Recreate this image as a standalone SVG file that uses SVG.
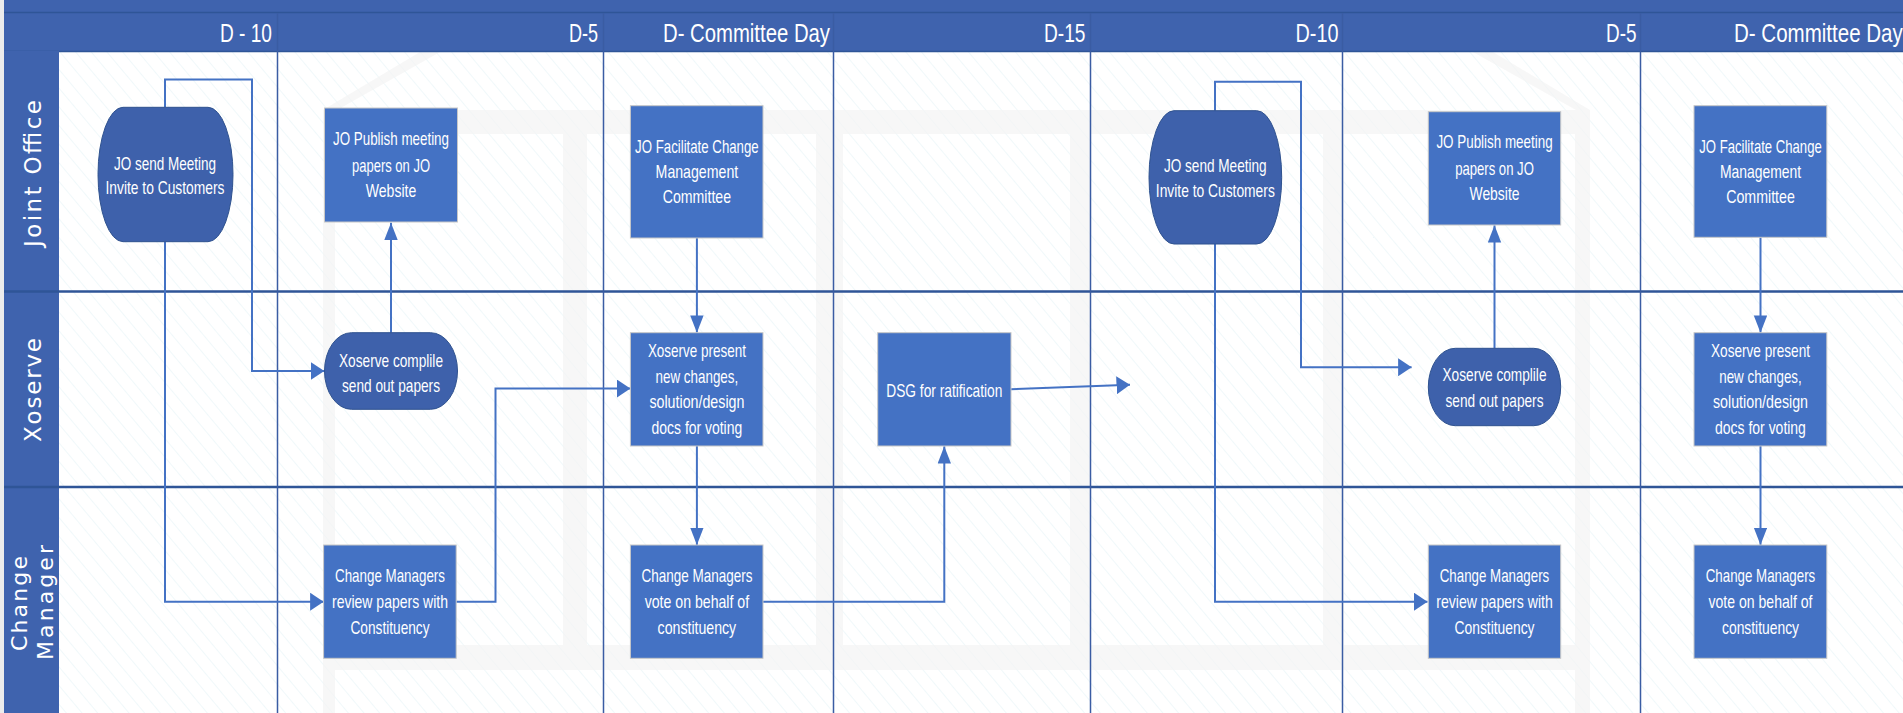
<svg xmlns="http://www.w3.org/2000/svg" width="1903" height="713" viewBox="0 0 1903 713">
<defs>
<pattern id="hatch" patternUnits="userSpaceOnUse" width="12" height="12" patternTransform="rotate(-40)">
<line x1="0" y1="0" x2="0" y2="12" stroke="#E2F1F5" stroke-width="1"/>
</pattern>
<marker id="ah" markerUnits="userSpaceOnUse" markerWidth="14" markerHeight="18" refX="13.5" refY="9" orient="auto">
<path d="M0,0 L13.5,9 L0,18 Z" fill="#4472C4"/>
</marker>
<marker id="av" markerUnits="userSpaceOnUse" markerWidth="18" markerHeight="14" refX="17.3" refY="6.7" orient="auto">
<path d="M0,0 L17.3,6.7 L0,13.4 Z" fill="#4472C4"/>
</marker>
<style>
.hdr{fill:#3F63AE}
.div{stroke:#2F5597;stroke-width:2.5;fill:none}
.col{stroke:#3A5CA3;stroke-width:1.5;fill:none}
.wm{fill:#F3F3F3;opacity:0.7}
.ht{font-family:"Liberation Sans",Arial,sans-serif;font-size:26px;fill:#FFFFFF;text-anchor:end}
.lt{font-family:"DejaVu Sans",Verdana,sans-serif;font-size:23px;fill:#FFFFFF;text-anchor:middle}
.box{fill:#4472C4;stroke:#C8C8C8;stroke-width:1}
.rnd{fill:#3E61AB;stroke:#2F528F;stroke-width:1}
.nt{font-family:"Liberation Sans",Arial,sans-serif;font-size:18.5px;fill:#FFFFFF;text-anchor:middle}
.cn{stroke:#4472C4;stroke-width:2;fill:none}
</style>
</defs>

<g id="background">
<rect x="0" y="0" width="1903" height="713" fill="#FFFFFF"/>
<rect x="0" y="0" width="4" height="713" fill="#ECECEC"/>
<rect x="59" y="51" width="1844" height="662" fill="url(#hatch)"/>
</g>

<g id="watermark">
<rect class="wm" x="323" y="110" width="1267" height="24"/>
<rect class="wm" x="323" y="134" width="12" height="579"/>
<rect class="wm" x="563" y="134" width="24" height="511"/>
<rect class="wm" x="816" y="134" width="27" height="511"/>
<rect class="wm" x="1070" y="134" width="21" height="511"/>
<rect class="wm" x="1323" y="134" width="21" height="511"/>
<rect class="wm" x="1575" y="134" width="15" height="579"/>
<rect class="wm" x="335" y="645" width="1240" height="25"/>
<polygon class="wm" points="323,110 337,110 440,52 420,52"/>
<polygon class="wm" points="1590,110 1576,110 1473,52 1493,52"/>
</g>

<g id="header">
<rect class="hdr" x="4" y="0" width="1899" height="51"/>
<line x1="4" y1="12.5" x2="1903" y2="12.5" stroke="#2F5597" stroke-width="1.5"/>
<line x1="4" y1="51.5" x2="1903" y2="51.5" stroke="#2F5597" stroke-width="1.5"/>
<text class="ht" x="272" y="41.5" textLength="52" lengthAdjust="spacingAndGlyphs">D - 10</text>
<text class="ht" x="598" y="41.5" textLength="29" lengthAdjust="spacingAndGlyphs">D-5</text>
<text class="ht" x="830" y="41.5" textLength="167" lengthAdjust="spacingAndGlyphs">D- Committee Day</text>
<text class="ht" x="1085.5" y="41.5" textLength="41.5" lengthAdjust="spacingAndGlyphs">D-15</text>
<text class="ht" x="1338.5" y="41.5" textLength="43" lengthAdjust="spacingAndGlyphs">D-10</text>
<text class="ht" x="1636.5" y="41.5" textLength="30.5" lengthAdjust="spacingAndGlyphs">D-5</text>
<text class="ht" style="text-anchor:start" x="0" y="0" transform="translate(1734,41.5) scale(0.79,1)">D- Committee Day</text>
</g>

<g id="lanes">
<rect class="hdr" x="4" y="51" width="55" height="662"/>
<line class="div" x1="4" y1="291.5" x2="1903" y2="291.5"/>
<line class="div" x1="4" y1="487" x2="1903" y2="487"/>
<g id="lane-joint-office"><text class="lt" transform="translate(41,173.5) rotate(-90)" textLength="147" lengthAdjust="spacing">Joint Office</text></g>
<g id="lane-xoserve"><text class="lt" transform="translate(41,390) rotate(-90)" textLength="104" lengthAdjust="spacing">Xoserve</text></g>
<g id="lane-change-manager">
<text class="lt" style="font-size:22px" transform="translate(26.5,603.5) rotate(-90)" textLength="95" lengthAdjust="spacing">Change</text>
<text class="lt" style="font-size:22px" transform="translate(53,602.5) rotate(-90)" textLength="115" lengthAdjust="spacing">Manager</text>
</g>
</g>

<g id="columns">
<line class="col" x1="277.5" y1="13" x2="277.5" y2="713"/>
<line class="col" x1="603.5" y1="13" x2="603.5" y2="713"/>
<line class="col" x1="833.5" y1="13" x2="833.5" y2="713"/>
<line class="col" x1="1090.5" y1="13" x2="1090.5" y2="713"/>
<line class="col" x1="1342.5" y1="13" x2="1342.5" y2="713"/>
<line class="col" x1="1640.5" y1="13" x2="1640.5" y2="713"/>
</g>

<g id="connectors">
<path class="cn" d="M165,107 V79.5 H252 V371 H324.3" marker-end="url(#ah)"/>
<path class="cn" d="M165,241.7 V601.7 H323.6" marker-end="url(#ah)"/>
<path class="cn" d="M391,332.7 V222.7" marker-end="url(#av)"/>
<path class="cn" d="M456.2,601.7 H495.5 V388.5 H630.4" marker-end="url(#ah)"/>
<path class="cn" d="M696.9,238 V332.7" marker-end="url(#av)"/>
<path class="cn" d="M696.9,446 V545" marker-end="url(#av)"/>
<path class="cn" d="M763,601.7 H944.3 V446.3" marker-end="url(#av)"/>
<path class="cn" d="M1011,389.3 L1130,384.8" marker-end="url(#ah)"/>
<path class="cn" d="M1215,110.7 V81.7 H1301 V367.3 H1411.6" marker-end="url(#ah)"/>
<path class="cn" d="M1215,244 V601.7 H1427.5" marker-end="url(#ah)"/>
<path class="cn" d="M1494.5,348.3 V225.3" marker-end="url(#av)"/>
<path class="cn" d="M1760.5,237.3 V332.7" marker-end="url(#av)"/>
<path class="cn" d="M1760.5,446 V545" marker-end="url(#av)"/>
</g>

<g id="n1">
<path class="rnd" d="M123,107.3 H208 A25,67.2 0 0 1 208,241.7 H123 A25,67.2 0 0 1 123,107.3 Z"/>
<text class="nt" x="165" y="170" textLength="102" lengthAdjust="spacingAndGlyphs">JO send Meeting</text>
<text class="nt" x="165" y="194" textLength="119" lengthAdjust="spacingAndGlyphs">Invite to Customers</text>
</g>

<g id="n2">
<rect class="box" x="324.5" y="108" width="133" height="114"/>
<text class="nt" x="391" y="145" textLength="116" lengthAdjust="spacingAndGlyphs">JO Publish meeting</text>
<text class="nt" x="391" y="171.5" textLength="78" lengthAdjust="spacingAndGlyphs">papers on JO</text>
<text class="nt" x="391" y="197" textLength="50.5" lengthAdjust="spacingAndGlyphs">Website</text>
</g>

<g id="n3">
<rect class="rnd" x="324.5" y="332.7" width="133" height="76.6" rx="27" ry="38.3"/>
<text class="nt" x="391" y="366.7" textLength="104" lengthAdjust="spacingAndGlyphs">Xoserve complile</text>
<text class="nt" x="391" y="391.7" textLength="98" lengthAdjust="spacingAndGlyphs">send out papers</text>
</g>

<g id="n4">
<rect class="box" x="323.6" y="545" width="132.6" height="113.3"/>
<text class="nt" x="390" y="581.7" textLength="110" lengthAdjust="spacingAndGlyphs">Change Managers</text>
<text class="nt" x="390" y="608.3" textLength="116" lengthAdjust="spacingAndGlyphs">review papers with</text>
<text class="nt" x="390" y="634" textLength="79" lengthAdjust="spacingAndGlyphs">Constituency</text>
</g>

<g id="n5">
<rect class="box" x="630.4" y="332.7" width="132.6" height="113.3"/>
<text class="nt" x="696.9" y="356.7" textLength="98" lengthAdjust="spacingAndGlyphs">Xoserve present</text>
<text class="nt" x="696.9" y="382.7" textLength="82.6" lengthAdjust="spacingAndGlyphs">new changes,</text>
<text class="nt" x="696.9" y="408.3" textLength="95" lengthAdjust="spacingAndGlyphs">solution/design</text>
<text class="nt" x="696.9" y="434" textLength="90.6" lengthAdjust="spacingAndGlyphs">docs for voting</text>
</g>

<g id="n6">
<rect class="box" x="630.4" y="105.7" width="132.6" height="132.3"/>
<text class="nt" x="696.9" y="152.7" textLength="123.6" lengthAdjust="spacingAndGlyphs">JO Facilitate Change</text>
<text class="nt" x="696.9" y="178.3" textLength="82.6" lengthAdjust="spacingAndGlyphs">Management</text>
<text class="nt" x="696.9" y="203.3" textLength="68.3" lengthAdjust="spacingAndGlyphs">Committee</text>
</g>

<g id="n7">
<rect class="box" x="630.4" y="545" width="132.6" height="113.3"/>
<text class="nt" x="696.9" y="581.7" textLength="111" lengthAdjust="spacingAndGlyphs">Change Managers</text>
<text class="nt" x="696.9" y="608.3" textLength="104.5" lengthAdjust="spacingAndGlyphs">vote on behalf of</text>
<text class="nt" x="696.9" y="634" textLength="78.6" lengthAdjust="spacingAndGlyphs">constituency</text>
</g>

<g id="n8">
<rect class="box" x="877.7" y="332.7" width="133.3" height="113.3"/>
<text class="nt" x="944.3" y="396.7" textLength="116" lengthAdjust="spacingAndGlyphs">DSG for ratification</text>
</g>

<g id="n9">
<path class="rnd" d="M1174,110.7 H1256.7 A25,66.65 0 0 1 1256.7,244 H1174 A25,66.65 0 0 1 1174,110.7 Z"/>
<text class="nt" x="1215.3" y="171.7" textLength="102.7" lengthAdjust="spacingAndGlyphs">JO send Meeting</text>
<text class="nt" x="1215.3" y="196.7" textLength="119" lengthAdjust="spacingAndGlyphs">Invite to Customers</text>
</g>

<g id="n10">
<rect class="box" x="1428.3" y="111.7" width="132.4" height="113.3"/>
<text class="nt" x="1494.5" y="148.3" textLength="116.2" lengthAdjust="spacingAndGlyphs">JO Publish meeting</text>
<text class="nt" x="1494.5" y="175" textLength="78.7" lengthAdjust="spacingAndGlyphs">papers on JO</text>
<text class="nt" x="1494.5" y="200" textLength="50" lengthAdjust="spacingAndGlyphs">Website</text>
</g>

<g id="n11">
<rect class="rnd" x="1428.3" y="348.3" width="132.4" height="77.4" rx="27" ry="38.7"/>
<text class="nt" x="1494.5" y="381" textLength="104" lengthAdjust="spacingAndGlyphs">Xoserve complile</text>
<text class="nt" x="1494.5" y="406.5" textLength="98" lengthAdjust="spacingAndGlyphs">send out papers</text>
</g>

<g id="n12">
<rect class="box" x="1428.3" y="545" width="132.4" height="113.3"/>
<text class="nt" x="1494.5" y="581.7" textLength="109.5" lengthAdjust="spacingAndGlyphs">Change Managers</text>
<text class="nt" x="1494.5" y="608.3" textLength="116.6" lengthAdjust="spacingAndGlyphs">review papers with</text>
<text class="nt" x="1494.5" y="634" textLength="80" lengthAdjust="spacingAndGlyphs">Constituency</text>
</g>

<g id="n13">
<rect class="box" x="1694" y="105.7" width="132.8" height="131.6"/>
<text class="nt" x="1760.5" y="152.7" textLength="122.5" lengthAdjust="spacingAndGlyphs">JO Facilitate Change</text>
<text class="nt" x="1760.5" y="178.3" textLength="81.2" lengthAdjust="spacingAndGlyphs">Management</text>
<text class="nt" x="1760.5" y="203.3" textLength="68.7" lengthAdjust="spacingAndGlyphs">Committee</text>
</g>

<g id="n14">
<rect class="box" x="1694" y="332.7" width="132.8" height="113.3"/>
<text class="nt" x="1760.5" y="356.7" textLength="99" lengthAdjust="spacingAndGlyphs">Xoserve present</text>
<text class="nt" x="1760.5" y="382.7" textLength="82.5" lengthAdjust="spacingAndGlyphs">new changes,</text>
<text class="nt" x="1760.5" y="408.3" textLength="95" lengthAdjust="spacingAndGlyphs">solution/design</text>
<text class="nt" x="1760.5" y="434" textLength="90.8" lengthAdjust="spacingAndGlyphs">docs for voting</text>
</g>

<g id="n15">
<rect class="box" x="1694" y="545" width="132.8" height="113.3"/>
<text class="nt" x="1760.5" y="581.7" textLength="109.5" lengthAdjust="spacingAndGlyphs">Change Managers</text>
<text class="nt" x="1760.5" y="608.3" textLength="104" lengthAdjust="spacingAndGlyphs">vote on behalf of</text>
<text class="nt" x="1760.5" y="634" textLength="77" lengthAdjust="spacingAndGlyphs">constituency</text>
</g>
</svg>
